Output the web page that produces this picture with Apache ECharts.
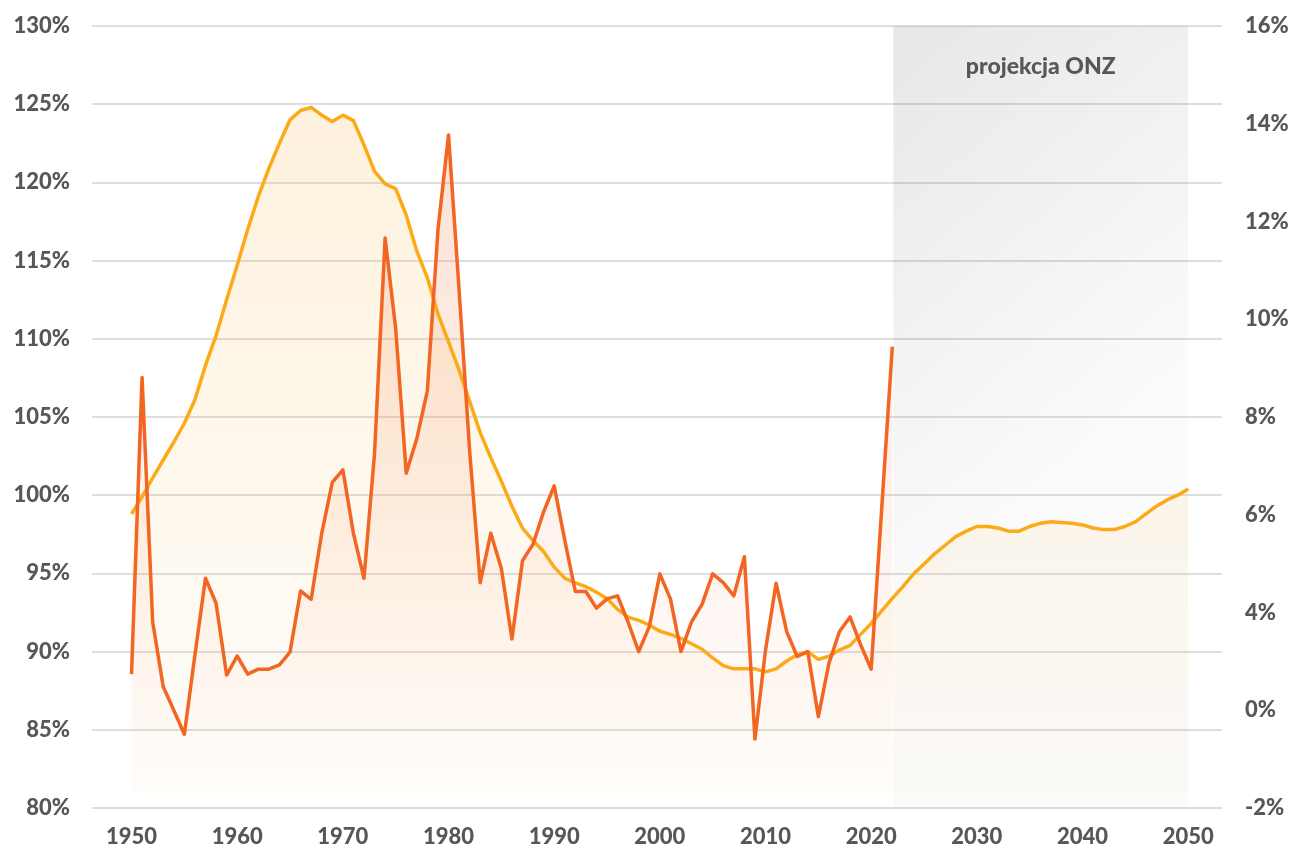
<!DOCTYPE html>
<html>
<head>
<meta charset="utf-8">
<script src="https://cdn.jsdelivr.net/npm/echarts@6/dist/echarts.min.js"></script>
<style>
html,body{margin:0;padding:0;background:#fff;}
#chart{width:1293px;height:848px;}
</style>
</head>
<body>
<div id="chart"></div>
<script>
// ---- data ----
const orangeStartYear = 1950;
const orangeValues = [
  98.8, 99.9, 101.1, 102.25, 103.4, 104.6, 106.1, 108.3, 110.2, 112.5,
  114.7, 117.0, 119.1, 120.9, 122.5, 124.0, 124.6, 124.8, 124.3, 123.9,
  124.3, 123.95, 122.4, 120.7, 119.9, 119.6, 117.9, 115.6, 113.9, 111.6,
  109.8, 108.0, 106.0, 104.0, 102.4, 100.9, 99.3, 97.9, 97.1, 96.4,
  95.4, 94.7, 94.4, 94.15, 93.8, 93.4, 92.7, 92.2, 92.0, 91.7,
  91.3, 91.1, 90.85, 90.5, 90.15, 89.6, 89.1, 88.9, 88.9, 88.9,
  88.7, 88.9, 89.4, 89.8, 90.0, 89.5, 89.7, 90.1, 90.4, 91.1,
  91.8, 92.6, 93.4, 94.15, 94.96, 95.6, 96.25, 96.8, 97.35, 97.7,
  98.0, 98.0, 97.9, 97.7, 97.7, 98.0, 98.2, 98.3, 98.25, 98.2,
  98.1, 97.9, 97.8, 97.8, 98.0, 98.3, 98.8, 99.3, 99.7, 100.0,
  100.4
];
const redStartYear = 1950;
// values in right-axis scale units (axis runs -2 .. 14 in 8 equal steps)
const redValues = [
  0.74, 6.81, 1.81, 0.48, 0.0, -0.49, 1.13, 2.70, 2.19, 0.72,
  1.11, 0.74, 0.84, 0.84, 0.93, 1.19, 2.44, 2.27, 3.62, 4.66,
  4.92, 3.62, 2.70, 5.26, 9.66, 7.81, 4.85, 5.56, 6.54, 9.83,
  11.77, 8.6, 5.3, 2.61, 3.62, 2.90, 1.46, 3.06, 3.40, 4.06,
  4.59, 3.48, 2.43, 2.43, 2.09, 2.28, 2.34, 1.80, 1.20, 1.71,
  2.79, 2.28, 1.20, 1.81, 2.17, 2.79, 2.61, 2.34, 3.14, -0.59,
  1.23, 2.60, 1.61, 1.10, 1.20, -0.13, 0.96, 1.61, 1.91, 1.34,
  0.84, 4.14, 7.44
];
const xTickYears = [1950, 1960, 1970, 1980, 1990, 2000, 2010, 2020, 2030, 2040, 2050];
const leftTickLabels = ['80%','85%','90%','95%','100%','105%','110%','115%','120%','125%','130%'];
const rightTickLabels = ['-2%','0%','4%','6%','8%','10%','12%','14%','16%'];
const projectionLabel = 'projekcja ONZ';
const projectionStart = 2022.1;
const projectionEnd = 2050;

// ---- build ----
const orangeData = orangeValues.map((v, i) => [orangeStartYear + i, v]);
const redData = redValues.map((v, i) => [redStartYear + i, v]);

const ORANGE = '#fcaa17';
const RED = '#f26522';
const TEXT = '#575757';
const FONT = 'Lato';
const labelFont = {color: TEXT, fontFamily: FONT, fontWeight: 900, fontSize: 22};

const chart = echarts.init(document.getElementById('chart'), null, {renderer: 'canvas'});
chart.setOption({
  animation: false,
  backgroundColor: '#ffffff',
  grid: {left: 92, right: 71, top: 26, bottom: 40},
  xAxis: {
    type: 'value',
    min: 1946.26,
    max: 2053.2,
    axisLine: {show: false},
    axisTick: {show: false},
    splitLine: {show: false},
    axisLabel: Object.assign({
      customValues: xTickYears,
      formatter: v => String(v),
      margin: 18
    }, labelFont)
  },
  yAxis: [
    {
      type: 'value', min: 80, max: 130, interval: 5, position: 'left',
      axisLine: {show: false}, axisTick: {show: false},
      splitLine: {show: true, lineStyle: {color: '#dedede', width: 2}},
      axisLabel: Object.assign({
        formatter: v => leftTickLabels[Math.round((v - 80) / 5)],
        margin: 22
      }, labelFont)
    },
    {
      type: 'value', min: -2, max: 14, interval: 2, position: 'right',
      axisLine: {show: false}, axisTick: {show: false},
      splitLine: {show: false},
      axisLabel: Object.assign({
        formatter: v => rightTickLabels[Math.round((v + 2) / 2)],
        margin: 23, align: 'left'
      }, labelFont)
    }
  ],
  series: [
    {
      name: 'orangeArea', type: 'line', yAxisIndex: 0, data: orangeData,
      symbol: 'none', lineStyle: {width: 0, opacity: 0}, silent: true, z: 1,
      areaStyle: {
        origin: 80.9,
        color: new echarts.graphic.LinearGradient(0, 0, 0, 1, [
          {offset: 0, color: 'rgba(248,178,60,0.25)'},
          {offset: 1, color: 'rgba(248,178,60,0.03)'}
        ])
      },
      markArea: {
        silent: true,
        itemStyle: {
          color: new echarts.graphic.LinearGradient(0, 0, 1, 0.45, [
            {offset: 0, color: 'rgba(0,0,0,0.095)'},
            {offset: 1, color: 'rgba(0,0,0,0.016)'}
          ])
        },
        label: Object.assign({
          show: true, position: 'insideTop', distance: 29
        }, labelFont, {fontSize: 23}),
        data: [[{name: projectionLabel, xAxis: projectionStart}, {xAxis: projectionEnd}]]
      }
    },
    {
      name: 'redArea', type: 'line', yAxisIndex: 1, data: redData,
      symbol: 'none', lineStyle: {width: 0, opacity: 0}, silent: true, z: 2,
      areaStyle: {
        origin: -1.71,
        color: new echarts.graphic.LinearGradient(0, 0, 0, 1, [
          {offset: 0, color: 'rgba(242,101,34,0.28)'},
          {offset: 1, color: 'rgba(242,101,34,0.0)'}
        ])
      }
    },
    {
      name: 'orangeLine', type: 'line', yAxisIndex: 0, data: orangeData,
      symbol: 'none', z: 3,
      lineStyle: {color: ORANGE, width: 3.5, join: 'round'}
    },
    {
      name: 'redLine', type: 'line', yAxisIndex: 1, data: redData,
      symbol: 'none', z: 4,
      lineStyle: {color: RED, width: 3.5, join: 'round'}
    }
  ]
});
</script>
</body>
</html>
